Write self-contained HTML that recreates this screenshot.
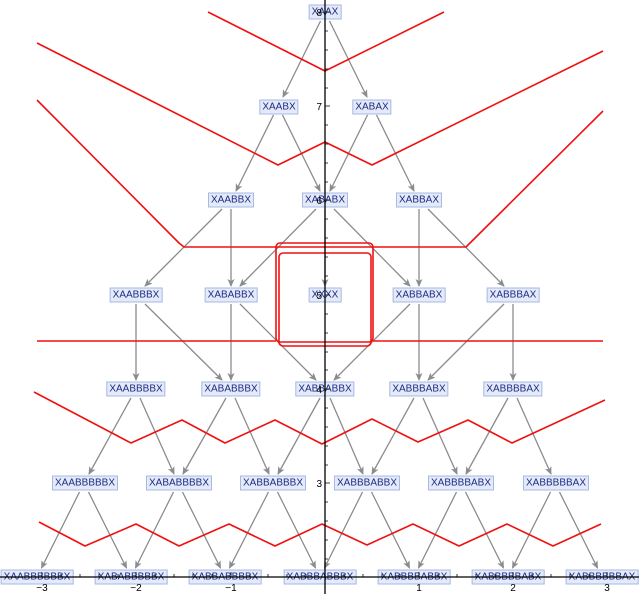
<!DOCTYPE html>
<html><head><meta charset="utf-8"><style>
html,body{margin:0;padding:0;background:#fff;}
#wrap{position:relative;width:639px;height:594px;overflow:hidden;}
svg{position:absolute;left:0;top:0;}
.n{position:absolute;transform:translate(-50%,-50%);font:10px "Liberation Sans",sans-serif;line-height:13px;color:#1b2b86;background:#e4eaf8;border:1px solid #a6bae6;padding:0 2px;white-space:nowrap;}
</style></head><body><div id="wrap">
<svg width="639" height="594">
<defs><marker id="a" markerWidth="8" markerHeight="8" refX="7" refY="3.5" orient="auto" markerUnits="userSpaceOnUse"><path d="M0,0 L8,3.5 L0,7 L2,3.5 Z" fill="#8c8c8c"/></marker></defs>
<g stroke="#8c8c8c" stroke-width="1.3" fill="none" marker-end="url(#a)">
<line x1="320.5" y1="21" x2="283" y2="97"/><line x1="329.5" y1="21" x2="367" y2="97"/>
<line x1="273.5" y1="115" x2="236" y2="191"/><line x1="282.5" y1="115" x2="320" y2="191"/><line x1="367.5" y1="115" x2="330" y2="191"/><line x1="376.5" y1="115" x2="414" y2="191"/>
<line x1="222" y1="209" x2="145" y2="286"/><line x1="231" y1="209" x2="231" y2="286"/><line x1="316" y1="209" x2="240" y2="286"/><line x1="325" y1="209" x2="325" y2="286"/><line x1="334" y1="209" x2="410" y2="286"/><line x1="419" y1="209" x2="419" y2="286"/><line x1="428" y1="209" x2="504" y2="286"/>
<line x1="136" y1="304" x2="136" y2="380"/><line x1="145" y1="304" x2="222" y2="380"/><line x1="231" y1="304" x2="231" y2="380"/><line x1="240" y1="304" x2="316" y2="380"/><line x1="410" y1="304" x2="334" y2="380"/><line x1="419" y1="304" x2="419" y2="380"/><line x1="504" y1="304" x2="428" y2="380"/><line x1="513" y1="304" x2="513" y2="380"/>
<line x1="131" y1="398" x2="89" y2="474"/><line x1="140" y1="398" x2="174" y2="474"/><line x1="226" y1="398" x2="183" y2="474"/><line x1="235" y1="398" x2="269" y2="474"/><line x1="320" y1="398" x2="278" y2="474"/><line x1="330" y1="398" x2="363" y2="474"/><line x1="414" y1="398" x2="372" y2="474"/><line x1="423" y1="398" x2="457" y2="474"/><line x1="508" y1="398" x2="466" y2="474"/><line x1="517" y1="398" x2="551" y2="474"/>
<line x1="79.5" y1="492" x2="41.5" y2="568"/><line x1="88.5" y1="492" x2="126.5" y2="568"/><line x1="173.5" y1="492" x2="135.5" y2="568"/><line x1="182.5" y1="492" x2="220.5" y2="568"/><line x1="268.5" y1="492" x2="229.5" y2="568"/><line x1="277.5" y1="492" x2="315.5" y2="568"/><line x1="362.5" y1="492" x2="324.5" y2="568"/><line x1="371.5" y1="492" x2="409.5" y2="568"/><line x1="456.5" y1="492" x2="418.5" y2="568"/><line x1="465.5" y1="492" x2="503.5" y2="568"/><line x1="550.5" y1="492" x2="512.5" y2="568"/><line x1="559.5" y1="492" x2="597.5" y2="568"/>
</g>
<g stroke="#f01010" stroke-width="1.6" fill="none" stroke-linejoin="round">
<polyline points="208,12 325,71 444,12"/>
<polyline points="37,43 278,165 325,142 372,165 603,51"/>
<polyline points="37,100 179,243 184,247 466,247 603,111"/>
<rect x="276" y="243" width="97" height="99" rx="4"/>
<rect x="279" y="253" width="92" height="93" rx="4"/>
<line x1="37" y1="341" x2="276" y2="341"/><line x1="373" y1="341" x2="603" y2="341"/>
<polyline points="34,392 131,443 182,420 225,443 275,420 322,444 372,419 418,442 468,420 512,443 605,400"/>
<polyline points="39,522 85,546 136,524 179,546 229,524 275,546 322,524 367,545 413,524 459,546 507,524 553,546 601,524"/>
</g>
</svg>
<div class="n" style="left:325px;top:12px">XAAX</div>
<div class="n" style="left:279px;top:107px">XAABX</div>
<div class="n" style="left:372px;top:107px">XABAX</div>
<div class="n" style="left:231px;top:200px">XAABBX</div>
<div class="n" style="left:325px;top:200px">XABABX</div>
<div class="n" style="left:419px;top:200px">XABBAX</div>
<div class="n" style="left:136px;top:295px">XAABBBX</div>
<div class="n" style="left:231px;top:295px">XABABBX</div>
<div class="n" style="left:325px;top:295px">XXXX</div>
<div class="n" style="left:419px;top:295px">XABBABX</div>
<div class="n" style="left:513px;top:295px">XABBBAX</div>
<div class="n" style="left:136px;top:389px">XAABBBBX</div>
<div class="n" style="left:231px;top:389px">XABABBBX</div>
<div class="n" style="left:325px;top:389px">XABBABBX</div>
<div class="n" style="left:419px;top:389px">XABBBABX</div>
<div class="n" style="left:513px;top:389px">XABBBBAX</div>
<div class="n" style="left:85px;top:483px">XAABBBBBX</div>
<div class="n" style="left:179px;top:483px">XABABBBBX</div>
<div class="n" style="left:273px;top:483px">XABBABBBX</div>
<div class="n" style="left:367px;top:483px">XABBBABBX</div>
<div class="n" style="left:461px;top:483px">XABBBBABX</div>
<div class="n" style="left:556px;top:483px">XABBBBBAX</div>
<div class="n" style="left:37px;top:577px">XAABBBBBBX</div>
<div class="n" style="left:131px;top:577px">XABABBBBBX</div>
<div class="n" style="left:225px;top:577px">XABBABBBBX</div>
<div class="n" style="left:320px;top:577px">XABBBABBBX</div>
<div class="n" style="left:414px;top:577px">XABBBBABBX</div>
<div class="n" style="left:508px;top:577px">XABBBBBABX</div>
<div class="n" style="left:602px;top:577px">XABBBBBBAX</div>
<svg width="639" height="594" style="font:10px 'Liberation Sans',sans-serif">
<g stroke="#000" stroke-width="1.3">
<line x1="325" y1="0" x2="325" y2="594"/><line x1="0" y1="577" x2="639" y2="577"/>
</g>
<g stroke="#000" stroke-width="0.8">
<path d="M325,12h5M325,106h5M325,200h5M325,295h5M325,389h5M325,483h5"/>
<path d="M325,31h3M325,50h3M325,69h3M325,88h3M325,125h3M325,144h3M325,163h3M325,182h3M325,219h3M325,238h3M325,257h3M325,276h3M325,314h3M325,333h3M325,352h3M325,370h3M325,408h3M325,427h3M325,446h3M325,465h3M325,502h3M325,521h3M325,540h3M325,559h3"/>
<path d="M42,577v-5M136,577v-5M231,577v-5M419,577v-5M513,577v-5M607,577v-5"/>
<path d="M61,577v-3M80,577v-3M99,577v-3M118,577v-3M155,577v-3M174,577v-3M193,577v-3M212,577v-3M250,577v-3M268,577v-3M287,577v-3M306,577v-3M344,577v-3M363,577v-3M382,577v-3M400,577v-3M438,577v-3M457,577v-3M476,577v-3M495,577v-3M532,577v-3M551,577v-3M570,577v-3M589,577v-3"/>
</g>
<g fill="#000" text-anchor="end">
<text x="322" y="16">8</text><text x="322" y="110">7</text><text x="322" y="204">6</text><text x="322" y="299">5</text><text x="322" y="393">4</text><text x="322" y="487">3</text>
</g>
<g fill="#000" text-anchor="middle">
<text x="42" y="591">−3</text><text x="136" y="591">−2</text><text x="231" y="591">−1</text><text x="419" y="591">1</text><text x="513" y="591">2</text><text x="607" y="591">3</text>
</g>
</svg>
</div></body></html>
